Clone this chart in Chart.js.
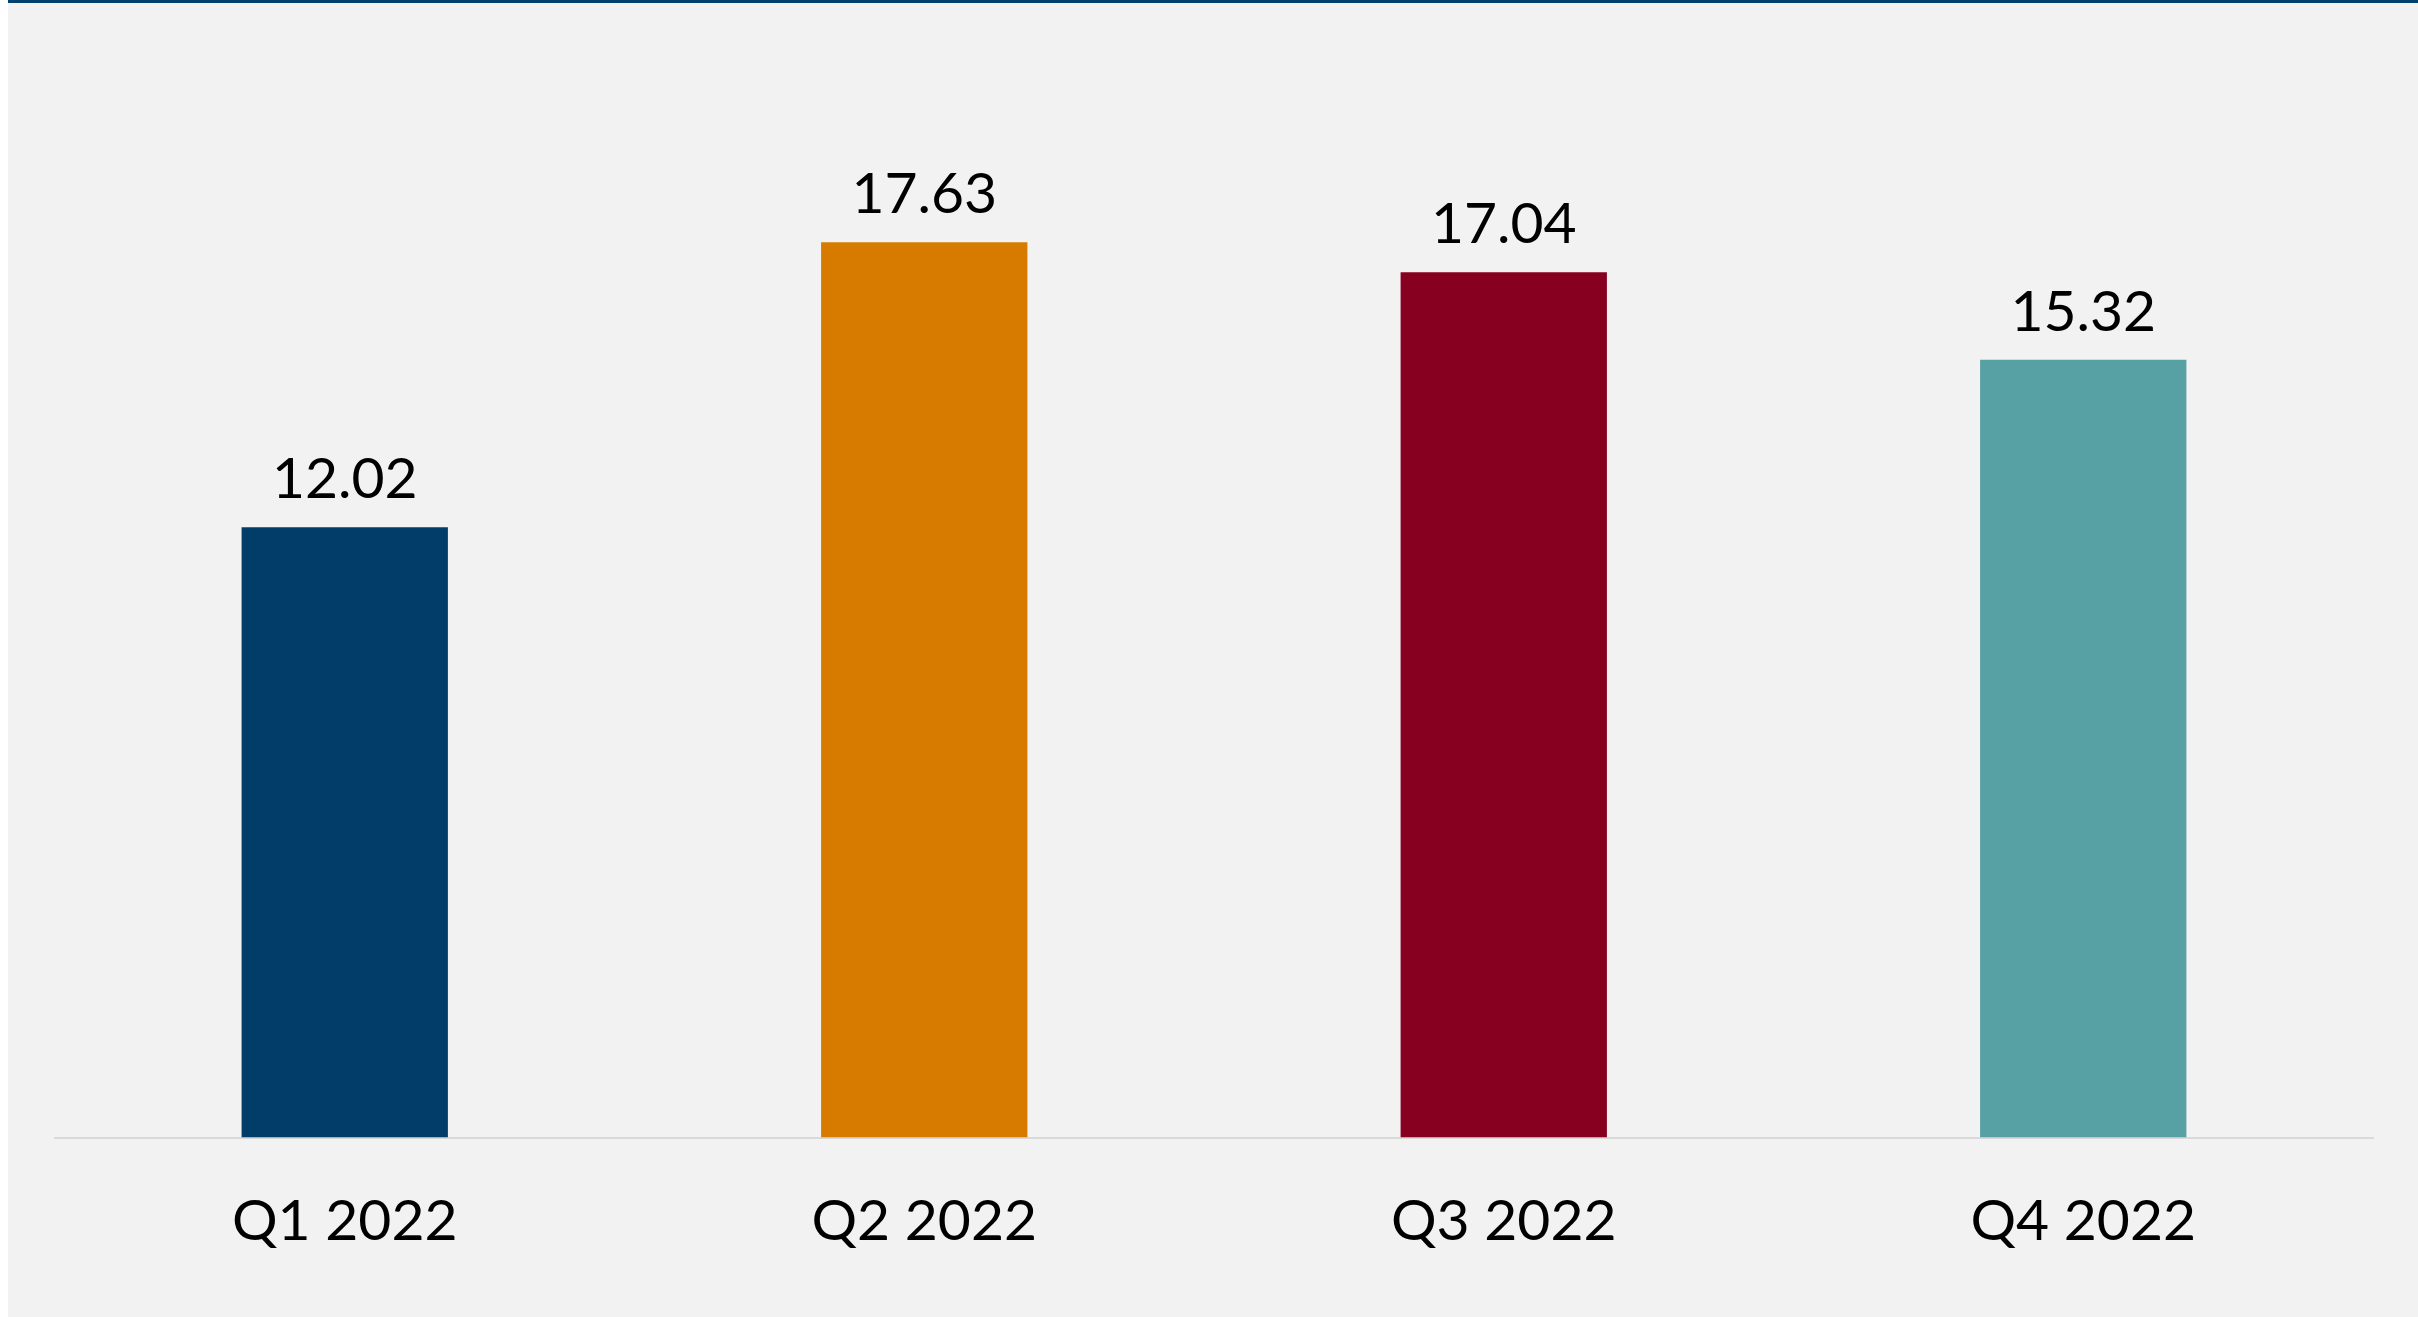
<!DOCTYPE html>
<html>
<head>
<meta charset="utf-8">
<script src="https://cdn.jsdelivr.net/npm/chart.js@4/dist/chart.umd.min.js"></script>
<style>
  html, body { margin: 0; padding: 0; background: #ffffff; }
  #panel {
    position: absolute; left: 8px; top: 0;
    width: 2410px; height: 1314px;
    background: #f2f2f2;
    border-top: 3px solid #00416e;
  }
  #chart { display: block; }
</style>
</head>
<body>
<div id="panel"><canvas id="chart" width="2410" height="1314"></canvas></div>
<script>
const quarters = ['Q1 2022', 'Q2 2022', 'Q3 2022', 'Q4 2022'];
const values = [12.02, 17.63, 17.04, 15.32];
const barColors = ['#023d6a', '#d67b00', '#870020', '#57a0a3'];

const FONT = 'Lato, "Open Sans", sans-serif';

// value labels above each bar
const barValueLabels = {
  id: 'barValueLabels',
  afterDatasetsDraw(chart) {
    const ctx = chart.ctx;
    const meta = chart.getDatasetMeta(0);
    ctx.save();
    ctx.font = '57px ' + FONT;
    ctx.fillStyle = '#000000';
    ctx.textAlign = 'center';
    ctx.textBaseline = 'alphabetic';
    meta.data.forEach((bar, i) => {
      ctx.fillText(values[i].toFixed(2), bar.x, bar.y - 29);
    });
    ctx.restore();
  }
};

new Chart(document.getElementById('chart').getContext('2d'), {
  type: 'bar',
  data: {
    labels: quarters,
    datasets: [{
      data: values,
      backgroundColor: barColors,
      borderWidth: 0,
      barPercentage: 0.356,
      categoryPercentage: 1
    }]
  },
  options: {
    responsive: false,
    animation: false,
    layout: { padding: { left: 47, right: 45, top: 119, bottom: 11 } },
    scales: {
      x: {
        grid: { display: false, drawTicks: false },
        border: { display: true, color: '#d9d9d9', width: 2 },
        ticks: { color: '#000000', padding: 50, font: { family: FONT, size: 57 } }
      },
      y: {
        display: false,
        min: 0,
        max: 20
      }
    },
    plugins: {
      legend: { display: false },
      tooltip: { enabled: false }
    }
  },
  plugins: [barValueLabels]
});
</script>
</body>
</html>
